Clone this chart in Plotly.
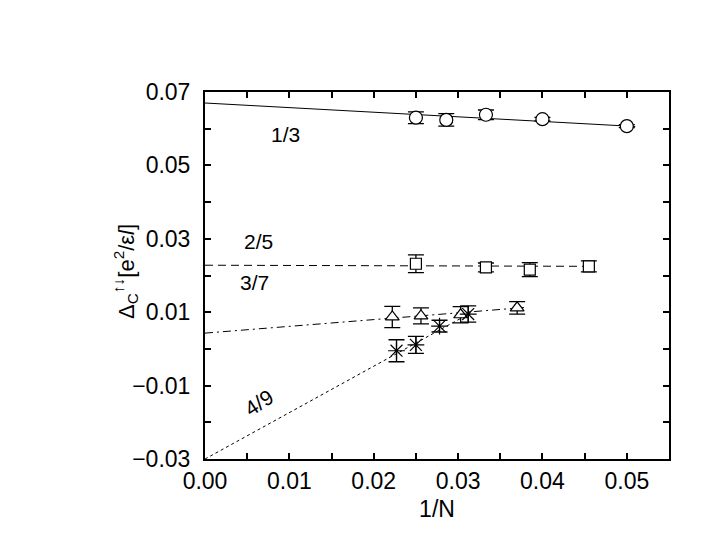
import plotly.graph_objects as go

# 1/3 state
x_13 = [0.025, 0.0286, 0.0333, 0.04, 0.05]
y_13 = [0.0630, 0.0624, 0.0638, 0.0626, 0.0607]
err_13 = [0.0016, 0.0017, 0.0013, 0.0005, 0.0004]
fit_x_13 = [0.0, 0.051]
fit_y_13 = [0.0670, 0.0606]

# 2/5 state
x_25 = [0.025, 0.0333, 0.0385, 0.0455]
y_25 = [0.0232, 0.0222, 0.0216, 0.0225]
err_25 = [0.0024, 0.0012, 0.0019, 0.0015]
fit_x_25 = [0.0, 0.046]
fit_y_25 = [0.0228, 0.0225]

# 3/7 state
x_37 = [0.0222, 0.0256, 0.0303, 0.0370]
y_37 = [0.0087, 0.0090, 0.0093, 0.0112]
err_37 = [0.0029, 0.0022, 0.0022, 0.0017]
fit_x_37 = [0.0, 0.038]
fit_y_37 = [0.0043, 0.0113]

# 4/9 state
x_49 = [0.0227, 0.025, 0.0278, 0.0312]
y_49 = [-0.0005, 0.0011, 0.0062, 0.0095]
err_49 = [0.0030, 0.0023, 0.0016, 0.0022]
fit_x_49 = [0.0, 0.0318]
fit_y_49 = [-0.030, 0.0102]

labels = ["1/3", "2/5", "3/7", "4/9"]
label_x = [0.0095, 0.0063, 0.0059, 0.0064]
label_y = [0.0583, 0.0294, 0.0180, -0.0145]
label_angle = [0, 0, 0, -33]

font = "Liberation Sans, Arial, sans-serif"

fig = go.Figure()

fits = [(fit_x_13, fit_y_13, "solid"), (fit_x_25, fit_y_25, "8px,5px"),
        (fit_x_37, fit_y_37, "8px,4px,2px,4px"), (fit_x_49, fit_y_49, "dot")]
for fx, fy, dash in fits:
    fig.add_trace(go.Scatter(x=fx, y=fy, mode="lines",
                             line=dict(color="black", width=1, dash=dash)))

# symbol, size, fill colour
points = [(x_13, y_13, err_13, "circle", 13, "white"),
          (x_25, y_25, err_25, "square", 11, "white"),
          (x_37, y_37, err_37, "triangle-up", 12, "white"),
          (x_49, y_49, err_49, "asterisk-open", 14, "black")]
for px, py, pe, sym, size, fill in points:
    fig.add_trace(go.Scatter(
        x=px, y=py, mode="markers",
        marker=dict(symbol=sym, size=size, color=fill,
                    line=dict(color="black", width=1.2)),
        error_y=dict(type="data", array=pe, visible=True,
                     color="black", thickness=1.3, width=8)))

for t, lx, ly, ang in zip(labels, label_x, label_y, label_angle):
    fig.add_annotation(x=lx, y=ly, text=t, showarrow=False, textangle=ang,
                       font=dict(size=21, color="black", family=font))

# y title placed as an annotation to pin its position
fig.add_annotation(xref="paper", yref="paper", x=-0.170, y=0.51,
                   text="Δ<sub>C</sub><sup>↑↓</sup>[e<sup>2</sup>/ε<i>l</i>]",
                   showarrow=False, textangle=-90,
                   xanchor="center", yanchor="middle",
                   font=dict(size=22, color="black", family=font))

axis_common = dict(
    showline=True, linecolor="black", linewidth=2, mirror="ticks",
    ticks="inside", ticklen=6, tickwidth=1.5, tickcolor="black",
    showgrid=False, zeroline=False,
    tickfont=dict(size=23, color="black", family=font),
)

fig.update_xaxes(range=[0, 0.055], tick0=0, dtick=0.01, tickformat=".2f",
                 minor=dict(dtick=0.005, ticks="inside", ticklen=6,
                            tickcolor="black", showgrid=False),
                 title=dict(text="1/N", font=dict(size=23, color="black", family=font),
                            standoff=8),
                 **axis_common)
fig.update_yaxes(range=[-0.03, 0.07], tick0=-0.03, dtick=0.02, tickformat=".2f",
                 ticklabelstandoff=8,
                 minor=dict(dtick=0.01, ticks="inside", ticklen=6,
                            tickcolor="black", showgrid=False),
                 **axis_common)

# page body adds an 8px offset, so margins are shifted to compensate
fig.update_layout(
    width=717, height=554,
    margin=dict(l=197, r=56, t=84, b=103),
    plot_bgcolor="white", paper_bgcolor="white",
    showlegend=False,
    font=dict(family=font, color="black"),
)

fig.write_html("out.html")
